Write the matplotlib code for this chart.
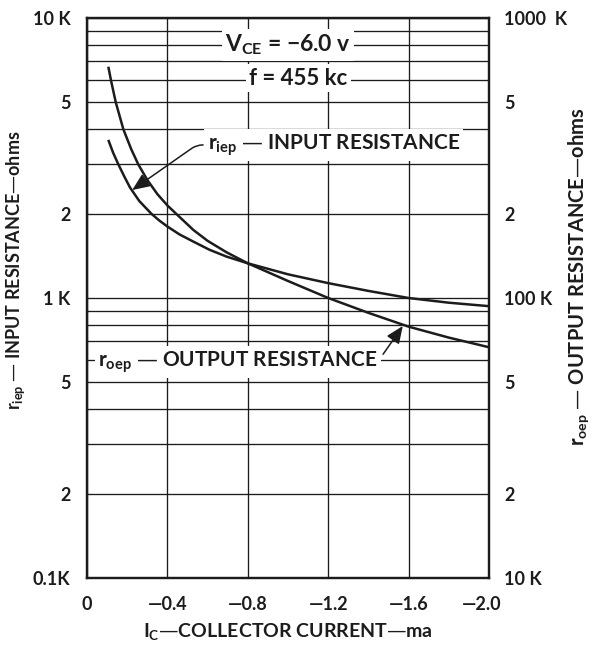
import matplotlib
matplotlib.use("Agg")
import matplotlib.pyplot as plt
from matplotlib.ticker import FixedLocator, NullFormatter
import matplotlib.transforms as mtransforms

plt.rcParams['font.family'] = ['Lato', 'DejaVu Sans']
plt.rcParams['font.weight'] = 'bold'
plt.rcParams['axes.labelweight'] = 'bold'
plt.rcParams['mathtext.default'] = 'regular'

# ---- data ----
# input resistance r_iep (kilo-ohms, left axis)
ic_in = [-0.106, -0.13, -0.156, -0.185, -0.214, -0.26, -0.32, -0.36, -0.4, -0.46,
         -0.529, -0.61, -0.695, -0.8, -1.0, -1.2, -1.4, -1.6, -1.8, -2.0]
r_in = [3.67, 3.3, 3.0, 2.72, 2.48, 2.22, 2.0, 1.89, 1.80, 1.687,
        1.59, 1.486, 1.405, 1.33, 1.215, 1.13, 1.06, 1.0, 0.962, 0.935]

# output resistance r_oep (kilo-ohms, right axis)
ic_out = [-0.106, -0.119, -0.143, -0.181, -0.22, -0.255, -0.3, -0.35, -0.4,
          -0.44, -0.529, -0.6, -0.695, -0.8, -1.0, -1.2, -1.4, -1.6, -1.8, -2.0]
r_out = [670, 600, 500, 400, 340, 300, 264, 235, 214,
         201, 175, 160, 145.5, 133, 115, 100, 88.5, 79, 72.2, 66.7]

x_ticks = [0, -0.4, -0.8, -1.2, -1.6, -2.0]
x_labels = ["0", "\u20140.4", "\u20140.8", "\u20141.2", "\u20141.6", "\u20142.0"]
left_ticks = [10, 5, 2, 1, 0.5, 0.2, 0.1]
left_labels = ["10 K", "5", "2", "1 K", "5", "2", "0.1K"]
right_ticks = [1000, 500, 200, 100, 50, 20, 10]
right_labels = ["1000  K", "5", "2", "100 K", "5", "2", "10 K"]

INK = "#1c1c1c"

fig = plt.figure(figsize=(5.94, 6.45), dpi=100)
ax = fig.add_axes([0.1465, 0.1039, 0.6767, 0.8682])
ax2 = ax.twinx()

ax.set_yscale('log')
ax2.set_yscale('log')
ax.set_ylim(0.1, 10)
ax2.set_ylim(10, 1000)
ax.set_xlim(0, -2.0)

# grid
minor = [m * 10.0 ** e for e in (-1, 0) for m in range(2, 10)]
ax.yaxis.set_minor_locator(FixedLocator(minor))
ax.yaxis.set_minor_formatter(NullFormatter())
ax.set_yticks(left_ticks)
ax.set_yticklabels(left_labels)
ax.set_xticks(x_ticks)
ax.set_xticklabels(x_labels)
ax.grid(True, which='both', axis='y', color=INK, lw=0.95)
ax.grid(True, which='major', axis='x', color=INK, lw=0.95)
ax2.set_yticks(right_ticks)
ax2.set_yticklabels(right_labels)
ax2.yaxis.set_minor_formatter(NullFormatter())
ax2.tick_params(which='minor', length=0)

for a in (ax, ax2):
    a.tick_params(which='both', length=0, labelsize=13, colors=INK)
    for s in a.spines.values():
        s.set_linewidth(1.6)
        s.set_color(INK)
ax.tick_params(axis='y', pad=12)
ax2.tick_params(axis='y', pad=11)
ax.tick_params(axis='x', pad=13)

# the last x label sits a little to the left, as in the reference
lab = ax.get_xticklabels()[-1]
lab.set_transform(lab.get_transform() + mtransforms.ScaledTranslation(-7 / 100, 0, fig.dpi_scale_trans))

# curves
ax.plot(ic_in, r_in, color=INK, lw=1.8, solid_capstyle='butt', zorder=5)
ax2.plot(ic_out, r_out, color=INK, lw=1.8, solid_capstyle='butt', zorder=5)

bbox = dict(boxstyle='square,pad=0.15', fc='white', ec='none')

ax.text(-1.0, 8.0, "V$_{CE}$ = \u22126.0 v", ha='center', va='center', fontsize=16.5,
        color=INK, bbox=bbox, zorder=6)
ax.text(-1.05, 6.1, "f = 455 kc", ha='center', va='center', fontsize=16,
        color=INK, bbox=bbox, zorder=6)

ax.annotate("r$_{iep}$ \u2014 INPUT RESISTANCE", xy=(-0.225, 2.43), xytext=(-0.6, 3.52),
            ha='left', va='center', fontsize=15, color=INK, bbox=bbox, zorder=6,
            arrowprops=dict(arrowstyle='-|>,head_length=0.7,head_width=0.3', color=INK, lw=1.1,
                            relpos=(0, 0.5), shrinkA=1, shrinkB=0,
                            connectionstyle='angle,angleA=180,angleB=35,rad=6'))

ax2.annotate("r$_{oep}$ \u2014 OUTPUT RESISTANCE", xy=(-1.571, 79.4), xytext=(-0.055, 59),
             ha='left', va='center', fontsize=15, color=INK, bbox=bbox, zorder=6,
             arrowprops=dict(arrowstyle='-|>,head_length=0.7,head_width=0.3', color=INK, lw=1.1,
                             relpos=(1, 0.5), shrinkA=3, shrinkB=0))

ax.set_xlabel("I$_C$\u2014COLLECTOR CURRENT\u2014ma", fontsize=14, color=INK, labelpad=6)
ax.set_ylabel("r$_{iep}$ \u2014 INPUT RESISTANCE\u2014ohms", fontsize=13, color=INK)
ax2.set_ylabel("r$_{oep}$ \u2014 OUTPUT RESISTANCE\u2014ohms", fontsize=14.5, color=INK,
               rotation=90)
ax.yaxis.set_label_coords(-0.177, 0.55)
ax2.yaxis.set_label_coords(1.224, 0.537)
ax.yaxis.label.set_va('center')
ax2.yaxis.label.set_va('center')

fig.savefig("out.png", dpi=100, facecolor='white')
